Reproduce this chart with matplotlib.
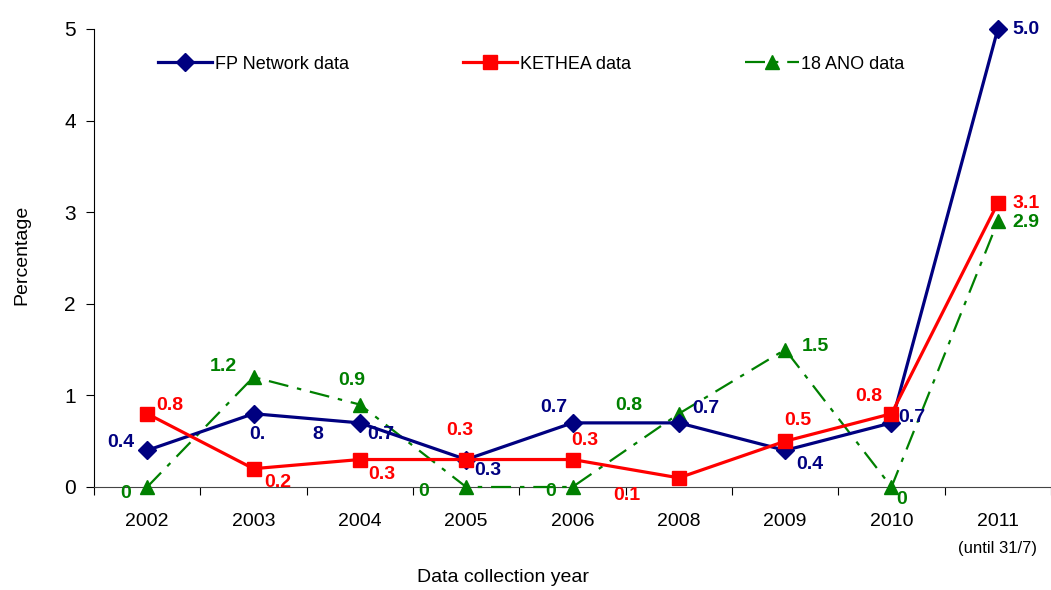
import numpy as np
import matplotlib.pyplot as plt

plt.rcParams['font.family'] = ['Liberation Sans', 'DejaVu Sans']

# ── Data ──────────────────────────────────────────────────────────────
years = ["2002", "2003", "2004", "2005", "2006", "2008", "2009", "2010", "2011"]
fp_network = [0.4, 0.8, 0.7, 0.3, 0.7, 0.7, 0.4, 0.7, 5.0]
kethea = [0.8, 0.2, 0.3, 0.3, 0.3, 0.1, 0.5, 0.8, 3.1]
ano18 = [0, 1.2, 0.9, 0, 0, 0.8, 1.5, 0, 2.9]

# ── Label offsets (pixels) ────────────────────────────────────────────
fp_off = [(-26, 8), (4, -21), (21, -12), (22, -11), (-19, 15), (27, 14), (25, -14), (20, 5), (28, 0)]
ke_off = [(23, 8), (24, -14), (22, -15), (-6, 29), (12, 19), (-52, -18), (13, 21), (-23, 17), (28, 0)]
an_off = [(-22, -6), (-30, 11), (-8, 24), (-43, -5), (-22, -5), (-50, 8), (30, 3), (10, -12), (28, -1)]

NAVY, RED, GREEN = '#000080', '#FF0000', '#008000'

fig = plt.figure(figsize=(10.51, 5.9), dpi=100)
ax = fig.add_axes([94 / 1051, 103 / 590, 957 / 1051, 458 / 590])

x = np.arange(len(years))
ax.plot(x, fp_network, color=NAVY, lw=2.3, marker='D', ms=9, clip_on=False,
        zorder=4, label='FP Network data')
ax.plot(x, kethea, color=RED, lw=2.3, marker='s', ms=10.5, clip_on=False,
        zorder=5, label='KETHEA data')
ax.plot(x, ano18, color=GREEN, lw=1.6, marker='^', ms=10.5, clip_on=False,
        dashes=(9, 4, 2, 4), zorder=3, label='18 ANO data')


def fmt(v):
    return '0' if v == 0 else f"{v:.1f}"


lbl = dict(textcoords='offset pixels', ha='center', va='center',
           fontsize=14, fontweight='bold', zorder=6)
for i in range(len(years)):
    t = fmt(fp_network[i])
    if i == 1:
        # the original splits this label in two pieces
        ax.annotate(t[:2], (x[i], fp_network[i]), xytext=fp_off[i], color=NAVY, **lbl)
        ax.annotate(t[2:], (x[i], fp_network[i]), xytext=(fp_off[i][0] + 60, fp_off[i][1]),
                    color=NAVY, **lbl)
    else:
        ax.annotate(t, (x[i], fp_network[i]), xytext=fp_off[i], color=NAVY, **lbl)
    ax.annotate(fmt(kethea[i]), (x[i], kethea[i]), xytext=ke_off[i], color=RED, **lbl)
    ax.annotate(fmt(ano18[i]), (x[i], ano18[i]), xytext=an_off[i], color=GREEN, **lbl)

# ── Axes ──────────────────────────────────────────────────────────────
ax.set_xlim(-0.5, len(years) - 0.5)
ax.set_ylim(0, 5)
ax.set_yticks(range(6))
ax.tick_params(axis='y', labelsize=15, length=6, width=0.8, pad=7)
ax.set_xticks(np.arange(-0.5, len(years), 1.0))
ax.set_xticklabels([])
ax.set_xticks(x, minor=True)
ax.set_xticklabels(years, minor=True)
ax.tick_params(axis='x', which='major', length=6, width=0.8, direction='out')
ax.tick_params(axis='x', which='minor', length=0, labelsize=14, pad=19)
for s in ['top', 'right']:
    ax.spines[s].set_visible(False)
ax.spines['left'].set_linewidth(0.8)
ax.spines['bottom'].set_linewidth(0.8)
ax.spines['bottom'].set_color('#444444')

ax.text(x[-1], -0.67, '(until 31/7)', ha='center', va='center', fontsize=12)

fig.text(22 / 1051, 1 - 255 / 590, 'Percentage', rotation=90, ha='center',
         va='center', fontsize=14)
fig.text(503 / 1051, 1 - 578 / 590, 'Data collection year', ha='center',
         va='center', fontsize=14)

ax.legend(loc='upper left', bbox_to_anchor=(48 / 957, 0.977), ncol=3, frameon=False,
          fontsize=13, handlelength=3.0, columnspacing=6.3, handletextpad=0.15)

fig.savefig('out.png', dpi=100)
